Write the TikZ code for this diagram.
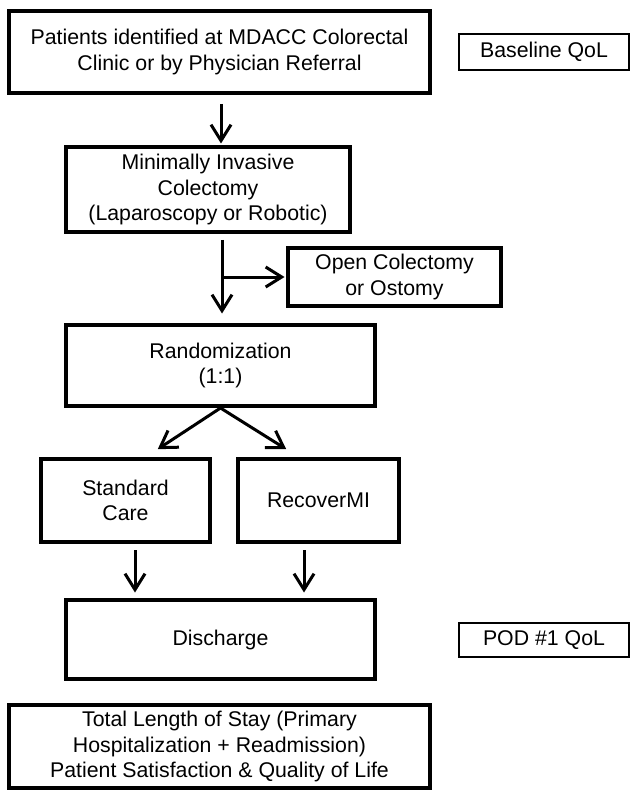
\documentclass[tikz,border=0pt]{standalone}
\usepackage{fontspec}
\setmainfont{Liberation Sans}
\usepackage{tikz}
\usetikzlibrary{arrows.meta,positioning}

\begin{document}
\begin{tikzpicture}[x=1pt,y=-1pt,
  box/.style={draw,line width=4pt,inner sep=0pt,align=center,
    font=\fontsize{21.3}{25.5}\selectfont},
  qol/.style={box,line width=2pt},
  arr/.style={line width=3pt,shorten >=1.5pt,-{Straight Barb[length=16pt,width=20pt]}}]
\useasboundingbox (0,0) rectangle (630,791);

\node[box,minimum width=421pt,minimum height=82pt] (pat) at (219.5,52)
  {Patients identified at MDACC Colorectal\\Clinic or by Physician Referral};
\node[box,minimum width=284pt,minimum height=85pt] (mic) at (208,189.5)
  {Minimally Invasive\\Colectomy\\(Laparoscopy or Robotic)};
\node[box,minimum width=213pt,minimum height=58pt] (open) at (394.5,277)
  {Open Colectomy\\or Ostomy};
\node[box,minimum width=309pt,minimum height=81pt] (rand) at (220.5,365.5)
  {Randomization\\(1:1)};
\node[box,minimum width=169pt,minimum height=83pt] (std) at (125.5,500.5)
  {Standard\\Care};
\node[box,minimum width=161pt,minimum height=83pt] (rec) at (318.5,500.5)
  {RecoverMI};
\node[box,minimum width=309pt,minimum height=79pt] (dis) at (220.5,639.5)
  {Discharge};
\node[box,minimum width=421pt,minimum height=83pt] (tot) at (219.5,746.5)
  {Total Length of Stay (Primary\\Hospitalization + Readmission)\\Patient Satisfaction \& Quality of Life};
\node[qol,minimum width=170pt,minimum height=36pt] (base) at (544,52) {Baseline QoL};
\node[qol,minimum width=170pt,minimum height=34pt] (pod) at (544,640) {POD \#1 QoL};

\draw[arr] ([xshift=1.5pt,yshift=-9pt]pat.south) -- ([xshift=13pt]mic.north);
\coordinate (split) at ([xshift=14pt,yshift=-6pt]mic.south);
\draw[arr] (split) -- ([xshift=1.5pt,yshift=8pt]rand.north);
\draw[arr] (split |- open.west) -- (open.west);
\draw[arr] (rand.south) -- ([xshift=31pt,yshift=7pt]std.north);
\draw[arr] (rand.south) -- ([xshift=-31pt,yshift=7pt]rec.north);
\draw[arr] ([xshift=9.5pt,yshift=-6pt]std.south) -- ([xshift=-85.5pt,yshift=4pt]dis.north);
\draw[arr] ([xshift=-14.5pt,yshift=-6pt]rec.south) -- ([xshift=83.5pt,yshift=4pt]dis.north);
\end{tikzpicture}
\end{document}
